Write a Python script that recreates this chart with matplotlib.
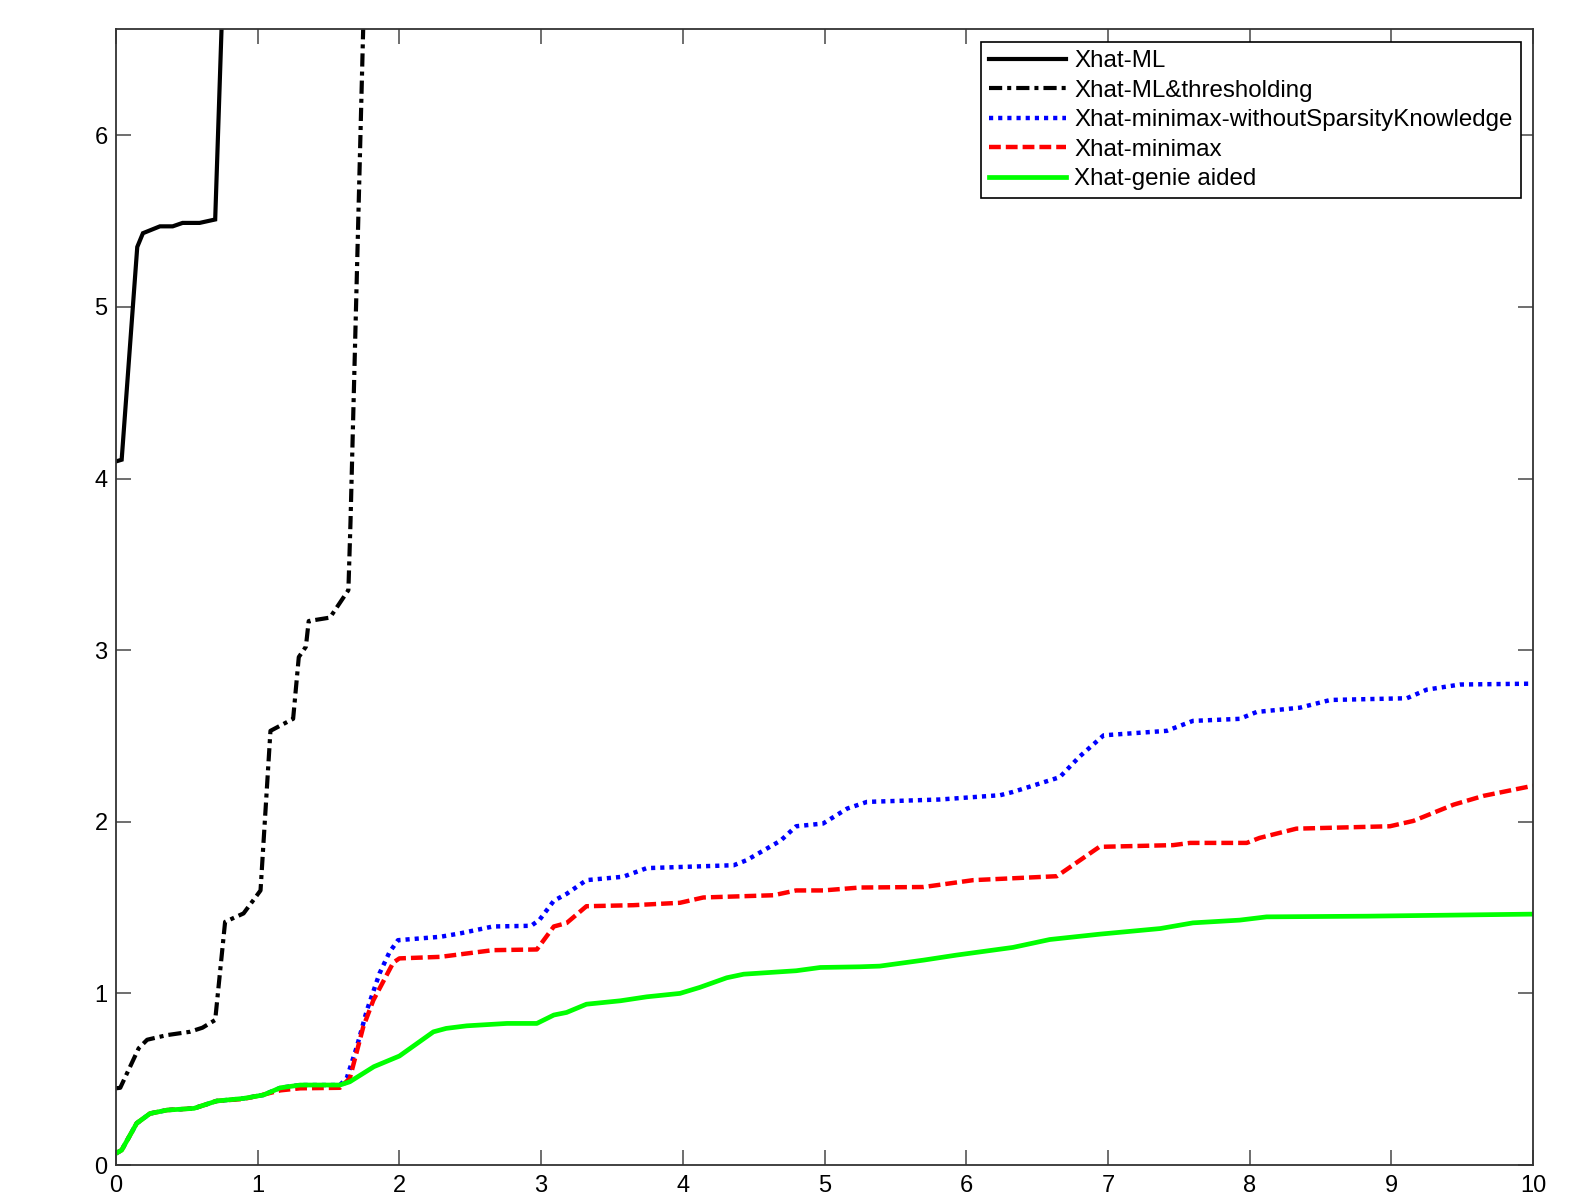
import matplotlib
matplotlib.use("Agg")
import matplotlib.pyplot as plt

plt.rcParams['font.family'] = ['Liberation Sans', 'DejaVu Sans']
plt.rcParams['lines.scale_dashes'] = False

# ---- data ----
labels = ["Xhat-ML", "Xhat-ML&thresholding", "Xhat-minimax-withoutSparsityKnowledge",
          "Xhat-minimax", "Xhat-genie aided"]

ml_x = [0, 0.04, 0.11, 0.15, 0.19, 0.25, 0.31, 0.40, 0.47, 0.59, 0.70, 0.75, 0.80]
ml_y = [4.10, 4.11, 4.90, 5.35, 5.43, 5.45, 5.47, 5.47, 5.49, 5.49, 5.51, 6.75, 8.5]

mlt_x = [0, 0.03, 0.16, 0.22, 0.36, 0.52, 0.61, 0.70, 0.77, 0.90, 1.02, 1.09, 1.25,
         1.29, 1.34, 1.36, 1.51, 1.64, 1.655, 1.75, 1.80]
mlt_y = [0.447, 0.45, 0.68, 0.73, 0.757, 0.776, 0.80, 0.845, 1.417, 1.466, 1.60, 2.53, 2.60,
         2.96, 3.02, 3.17, 3.19, 3.35, 3.75, 6.8, 8.5]

early_x = [0, 0.04, 0.146, 0.24, 0.36, 0.55, 0.71, 0.90, 1.04, 1.16, 1.30, 1.58]

blue_x = early_x + [1.628, 1.70, 1.77, 1.86, 1.93, 1.99, 2.29, 2.43, 2.66, 2.93, 2.99, 3.09,
                    3.18, 3.32, 3.58, 3.745, 4.36, 4.45, 4.69, 4.80, 4.99, 5.16, 5.30, 5.815,
                    6.24, 6.33, 6.66, 6.80, 6.97, 7.415, 7.60, 7.93, 8.05, 8.355, 8.57, 9.11,
                    9.25, 9.485, 10.0]
blue_y = [0.068, 0.087, 0.243, 0.30, 0.32, 0.33, 0.373, 0.388, 0.408, 0.45, 0.466, 0.466,
          0.505, 0.69, 0.90, 1.117, 1.24, 1.31, 1.33, 1.35, 1.39, 1.394, 1.43, 1.54,
          1.58, 1.66, 1.68, 1.73, 1.747, 1.776, 1.89, 1.974, 1.99, 2.077, 2.116, 2.13,
          2.155, 2.174, 2.26, 2.38, 2.504, 2.53, 2.588, 2.60, 2.64, 2.665, 2.71, 2.72,
          2.77, 2.80, 2.805]

red_x = early_x + [1.65, 1.745, 1.816, 1.957, 2.0, 2.29, 2.66, 2.97, 3.09, 3.18, 3.32, 3.65,
                   3.98, 4.145, 4.64, 4.80, 4.99, 5.25, 5.70, 6.05, 6.64, 6.94, 7.46, 7.58,
                   7.98, 8.07, 8.33, 8.99, 9.155, 9.44, 9.65, 10.0]
red_y = [0.068, 0.087, 0.243, 0.30, 0.32, 0.33, 0.373, 0.385, 0.41, 0.435, 0.447, 0.45,
         0.505, 0.805, 0.96, 1.18, 1.204, 1.213, 1.252, 1.256, 1.39, 1.41, 1.508, 1.514,
         1.528, 1.559, 1.572, 1.60, 1.60, 1.617, 1.62, 1.66, 1.683, 1.854, 1.864, 1.877,
         1.877, 1.906, 1.96, 1.974, 2.005, 2.10, 2.151, 2.21]

green_x = [0, 0.04, 0.146, 0.24, 0.36, 0.55, 0.71, 0.90, 1.04, 1.16, 1.30, 1.58, 1.65, 1.82,
           2.0, 2.24, 2.33, 2.475, 2.76, 2.97, 3.09, 3.18, 3.32, 3.56, 3.745, 3.98, 4.12,
           4.31, 4.43, 4.80, 4.97, 5.25, 5.39, 5.70, 5.93, 6.33, 6.59, 6.94, 7.37, 7.60,
           7.93, 8.12, 8.83, 10.0]
green_y = [0.068, 0.087, 0.243, 0.30, 0.32, 0.33, 0.373, 0.388, 0.408, 0.45, 0.466, 0.466,
           0.485, 0.573, 0.635, 0.776, 0.796, 0.811, 0.825, 0.825, 0.874, 0.889, 0.937,
           0.957, 0.98, 1.0, 1.035, 1.091, 1.112, 1.132, 1.151, 1.155, 1.159, 1.194, 1.223,
           1.268, 1.314, 1.345, 1.378, 1.411, 1.427, 1.446, 1.45, 1.462]

xticks = list(range(0, 11))
yticks = list(range(0, 7))

# ---- plot ----
fig = plt.figure(figsize=(15.9, 11.95), dpi=100)
ax = fig.add_axes([116/1590, 1 - 1165/1195, (1533-116)/1590, (1165-29)/1195])

ax.plot(ml_x, ml_y, color='black', lw=3, solid_joinstyle='miter', label=labels[0])
ax.plot(mlt_x, mlt_y, color='black', lw=3, dashes=(9.5, 3.6, 2.9, 3.6), label=labels[1])
ax.plot(blue_x, blue_y, color=(0, 0, 1), lw=3.2, dashes=(3.0, 3.6), label=labels[2])
ax.plot(red_x, red_y, color=(1, 0, 0), lw=3.2, dashes=(8.5, 3.6), label=labels[3])
ax.plot(green_x, green_y, color=(0, 1, 0), lw=3.4, label=labels[4])

ax.set_xlim(0, 10)
ax.set_ylim(0, 6.62)
ax.set_xticks(xticks)
ax.set_yticks(yticks)
ax.tick_params(direction='in', length=11, width=1.2, colors='#555555', labelcolor='black',
               labelsize=17, top=True, right=True)
ax.tick_params(axis='x', pad=7)
ax.tick_params(axis='y', pad=6)
for s in ax.spines.values():
    s.set_color('#333333')
    s.set_linewidth(1.3)

leg = ax.legend(loc='upper right', bbox_to_anchor=((1521-116)/1417, (1165-41.6)/1136),
                borderaxespad=0, fontsize=17.4, handlelength=3.2, handletextpad=0.32,
                labelspacing=0.31, borderpad=0.35, fancybox=False, framealpha=1,
                edgecolor='black')
leg.get_frame().set_linewidth(1.2)

fig.savefig("out.png", dpi=100)
